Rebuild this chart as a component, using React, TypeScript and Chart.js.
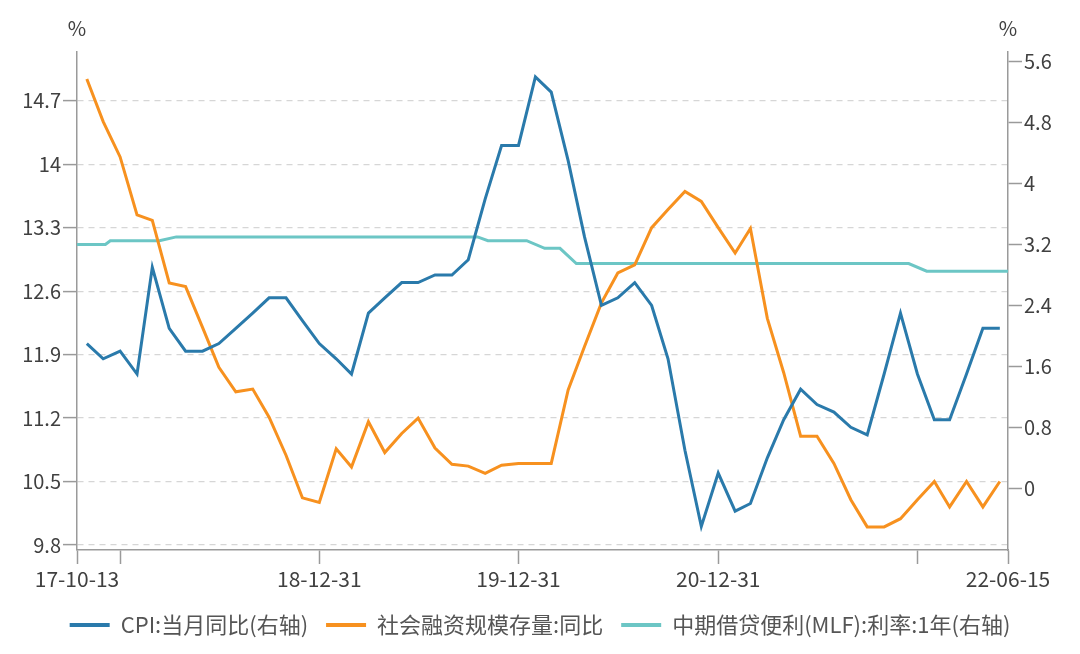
import React, { useEffect, useRef } from 'react';
import { Chart, registerables } from 'chart.js';

Chart.register(...registerables);

// Month-end observation dates (CPI and TSF series)
const months = [
  '2017-10-31', '2017-11-30', '2017-12-31',
  '2018-01-31', '2018-02-28', '2018-03-31', '2018-04-30', '2018-05-31', '2018-06-30',
  '2018-07-31', '2018-08-31', '2018-09-30', '2018-10-31', '2018-11-30', '2018-12-31',
  '2019-01-31', '2019-02-28', '2019-03-31', '2019-04-30', '2019-05-31', '2019-06-30',
  '2019-07-31', '2019-08-31', '2019-09-30', '2019-10-31', '2019-11-30', '2019-12-31',
  '2020-01-31', '2020-02-29', '2020-03-31', '2020-04-30', '2020-05-31', '2020-06-30',
  '2020-07-31', '2020-08-31', '2020-09-30', '2020-10-31', '2020-11-30', '2020-12-31',
  '2021-01-31', '2021-02-28', '2021-03-31', '2021-04-30', '2021-05-31', '2021-06-30',
  '2021-07-31', '2021-08-31', '2021-09-30', '2021-10-31', '2021-11-30', '2021-12-31',
  '2022-01-31', '2022-02-28', '2022-03-31', '2022-04-30', '2022-05-31',
];

// CPI: 当月同比 (right axis)
const cpi = [
  1.9, 1.7, 1.8,
  1.5, 2.9, 2.1, 1.8, 1.8, 1.9, 2.1, 2.3, 2.5, 2.5, 2.2, 1.9,
  1.7, 1.5, 2.3, 2.5, 2.7, 2.7, 2.8, 2.8, 3.0, 3.8, 4.5, 4.5,
  5.4, 5.2, 4.3, 3.3, 2.4, 2.5, 2.7, 2.4, 1.7, 0.5, -0.5, 0.2,
  -0.3, -0.2, 0.4, 0.9, 1.3, 1.1, 1.0, 0.8, 0.7, 1.5, 2.3, 1.5,
  0.9, 0.9, 1.5, 2.1, 2.1,
];

// 社会融资规模存量: 同比 (left axis)
const tsf = [
  14.94, 14.47, 14.08,
  13.44, 13.38, 12.69, 12.65, 12.2, 11.76, 11.49, 11.52, 11.21, 10.79, 10.32, 10.27,
  10.86, 10.66, 11.16, 10.82, 11.03, 11.2, 10.87, 10.69, 10.67, 10.59, 10.68, 10.7,
  10.7, 10.7, 11.51, 11.99, 12.47, 12.8, 12.89, 13.3, 13.5, 13.7, 13.59, 13.3,
  13.02, 13.29, 12.3, 11.7, 11.0, 11.0, 10.7, 10.3, 10.0, 10.0, 10.09, 10.3,
  10.5, 10.22, 10.5, 10.22, 10.5,
];

// 中期借贷便利(MLF): 利率: 1年 (right axis)
const mlfDates = [
  '2017-10-13', '2017-12-04', '2017-12-13', '2018-03-13', '2018-04-13',
  '2019-10-17', '2019-11-05', '2020-01-15', '2020-02-17', '2020-03-16',
  '2020-04-15', '2021-12-15', '2022-01-17', '2022-06-15',
];
const mlf = [3.2, 3.2, 3.25, 3.25, 3.3, 3.3, 3.25, 3.25, 3.15, 3.15, 2.95, 2.95, 2.85, 2.85];

const seriesNames = ['CPI:当月同比(右轴)', '社会融资规模存量:同比', '中期借贷便利(MLF):利率:1年(右轴)'];
const seriesColors = ['#2a7aab', '#f7911f', '#6cc6c5'];

const xTickDates = ['2017-10-13', '2017-12-31', '2018-12-31', '2019-12-31', '2020-12-31', '2021-12-31', '2022-06-15'];
const xTickLabels = ['17-10-13', '', '18-12-31', '19-12-31', '20-12-31', '', '22-06-15'];
const leftTicks = [9.8, 10.5, 11.2, 11.9, 12.6, 13.3, 14, 14.7];
const rightTicks = [0, 0.8, 1.6, 2.4, 3.2, 4, 4.8, 5.6];

const toDay = (s: string) =>
  Date.UTC(+s.slice(0, 4), +s.slice(5, 7) - 1, +s.slice(8, 10)) / 86400000;

const FONT = '"Noto Sans CJK SC", "Noto Sans", sans-serif';
const AXIS_COLOR = '#9a9a9a';
const TEXT_COLOR = '#404040';
const BOTTOM_PAD = 8;

export default function App() {
  const ref = useRef<HTMLCanvasElement | null>(null);

  useEffect(() => {
    document.body.style.margin = '0';
    const canvas = ref.current;
    if (!canvas) return;

    const percentPlugin = {
      id: 'percentTitles',
      afterDraw(chart: any) {
        const { ctx, chartArea } = chart;
        ctx.save();
        ctx.font = `20px ${FONT}`;
        ctx.fillStyle = TEXT_COLOR;
        ctx.textAlign = 'center';
        ctx.textBaseline = 'middle';
        ctx.fillText('%', chartArea.left, 28);
        ctx.fillText('%', chartArea.right, 28);
        ctx.restore();
      },
    };

    const chart = new Chart(canvas, {
      type: 'line',
      data: {
        datasets: [
          {
            label: seriesNames[0],
            data: months.map((m, i) => ({ x: toDay(m), y: cpi[i] })),
            borderColor: seriesColors[0],
            backgroundColor: seriesColors[0],
            borderWidth: 3,
            pointRadius: 0,
            tension: 0,
            yAxisID: 'yR',
          },
          {
            label: seriesNames[1],
            data: months.map((m, i) => ({ x: toDay(m), y: tsf[i] })),
            borderColor: seriesColors[1],
            backgroundColor: seriesColors[1],
            borderWidth: 3,
            pointRadius: 0,
            tension: 0,
            yAxisID: 'yL',
          },
          {
            label: seriesNames[2],
            data: mlfDates.map((d, i) => ({ x: toDay(d), y: mlf[i] })),
            borderColor: seriesColors[2],
            backgroundColor: seriesColors[2],
            borderWidth: 3,
            pointRadius: 0,
            tension: 0,
            yAxisID: 'yR',
          },
        ],
      },
      options: {
        responsive: false,
        animation: false,
        devicePixelRatio: 1,
        layout: { padding: { top: 52, left: 0, right: 0, bottom: BOTTOM_PAD } },
        plugins: {
          tooltip: { enabled: false },
          legend: {
            position: 'bottom',
            labels: {
              font: { size: 22, family: FONT },
              color: '#555555',
              boxWidth: 40,
              boxHeight: 4,
              padding: 18,
              generateLabels: (ch: any) => {
                const items = (Chart.defaults.plugins.legend.labels as any).generateLabels(ch);
                return items.map((it: any) => ({ ...it, fillStyle: it.strokeStyle, lineWidth: 0 }));
              },
            },
          },
        },
        scales: {
          x: {
            type: 'linear',
            min: toDay(xTickDates[0]),
            max: toDay(xTickDates[xTickDates.length - 1]),
            afterBuildTicks: (scale: any) => {
              scale.ticks = xTickDates.map((d) => ({ value: toDay(d) }));
            },
            afterFit: (scale: any) => {
              const legendH = scale.chart.legend ? scale.chart.legend.height : 58;
              scale.height = 654 - 550 - legendH - BOTTOM_PAD;
            },
            ticks: {
              autoSkip: false,
              maxRotation: 0,
              padding: 2,
              color: TEXT_COLOR,
              font: { size: 21, family: FONT },
              callback: (_v: any, i: number) => xTickLabels[i],
            },
            grid: {
              drawOnChartArea: false,
              drawTicks: true,
              tickLength: 14,
              tickColor: AXIS_COLOR,
              tickWidth: 1.5,
            },
            border: { display: true, color: AXIS_COLOR, width: 1.5 },
          },
          yL: {
            type: 'linear',
            position: 'left',
            min: 9.745,
            max: 15.237,
            afterBuildTicks: (scale: any) => {
              scale.ticks = leftTicks.map((v) => ({ value: v }));
            },
            afterFit: (scale: any) => {
              scale.width = 77;
            },
            ticks: {
              padding: 2,
              color: TEXT_COLOR,
              font: { size: 20, family: FONT },
              callback: (v: any) => String(v),
            },
            grid: {
              drawOnChartArea: true,
              color: '#d6d6d6',
              lineWidth: 1.2,
              drawTicks: true,
              tickLength: 14,
              tickColor: AXIS_COLOR,
              tickWidth: 1.5,
              tickBorderDash: [],
            },
            border: { display: true, color: AXIS_COLOR, width: 1.5, dash: [6, 5] },
          },
          yR: {
            type: 'linear',
            position: 'right',
            min: -0.81,
            max: 5.727,
            afterBuildTicks: (scale: any) => {
              scale.ticks = rightTicks.map((v) => ({ value: v }));
            },
            afterFit: (scale: any) => {
              scale.width = 72;
            },
            ticks: {
              padding: 2,
              color: TEXT_COLOR,
              font: { size: 20, family: FONT },
              callback: (v: any) => String(v),
            },
            grid: {
              drawOnChartArea: false,
              drawTicks: true,
              tickLength: 14,
              tickColor: AXIS_COLOR,
              tickWidth: 1.5,
            },
            border: { display: true, color: AXIS_COLOR, width: 1.5 },
          },
        },
      } as any,
      plugins: [percentPlugin],
    });

    return () => chart.destroy();
  }, []);

  return (
    <div style={{ width: 1080, height: 654, background: '#ffffff' }}>
      <canvas ref={ref} width={1080} height={654} style={{ display: 'block', width: 1080, height: 654 }} />
    </div>
  );
}
